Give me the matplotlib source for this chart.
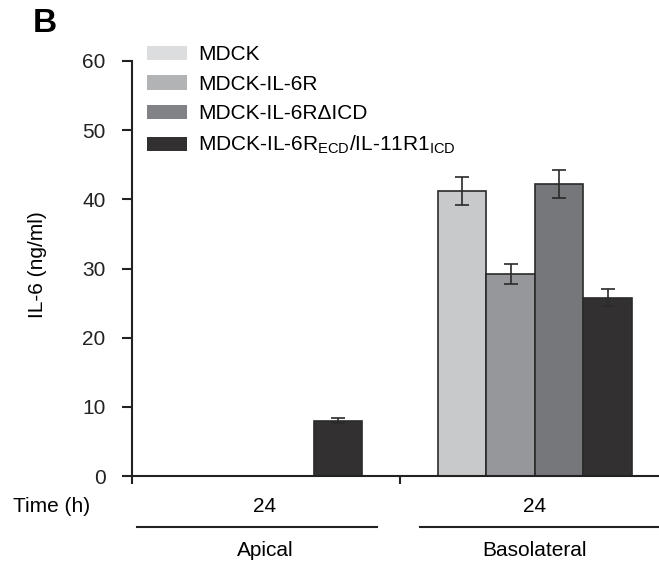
import numpy as np
import matplotlib
matplotlib.use("Agg")
from matplotlib import pyplot as plt
from matplotlib.patches import Patch

plt.rcParams['font.family'] = ['Liberation Sans', 'DejaVu Sans']
plt.rcParams['mathtext.fontset'] = 'custom'
plt.rcParams['mathtext.rm'] = 'Liberation Sans'
plt.rcParams['mathtext.it'] = 'Liberation Sans'

# data
groups = ["Apical", "Basolateral"]
times = ["24", "24"]
series = ["MDCK", "MDCK-IL-6R", "MDCK-IL-6R\u0394ICD",
          "MDCK-IL-6R$_{\\mathrm{ECD}}$/IL-11R1$_{\\mathrm{ICD}}$"]
apical = [0.0, 0.05, 0.05, 8.0]
apical_err = [0.0, 0.0, 0.0, 0.4]
basolateral = [41.2, 29.2, 42.2, 25.8]
basolateral_err = [2.0, 1.5, 2.0, 1.2]

bar_colors = ["#c8c9cb", "#96979a", "#76777a", "#323031"]
legend_colors = ["#dcdddf", "#b2b3b5", "#818285", "#323031"]

W, H = 659, 564
fig = plt.figure(figsize=(W / 100, H / 100), dpi=100)
# axes: left spine x=132, y=0 at 476, y=60 at 61
ax = fig.add_axes([132 / W, 1 - 476 / H, 1 - 132 / W, (476 - 61) / H])

w = 0.18
x = np.arange(len(groups))
for i in range(len(series)):
    vals = [apical[i], basolateral[i]]
    errs = [apical_err[i], basolateral_err[i]]
    pos = x + (i - 1.5) * w
    ax.bar(pos, vals, w, color=bar_colors[i], edgecolor="#2a2a2a", linewidth=1.2, zorder=2)
    for p, v, e in zip(pos, vals, errs):
        if e > 0:
            ax.errorbar(p, v, yerr=e, fmt="none", ecolor="#2a2a2a", elinewidth=1.2,
                        capsize=5, capthick=1.2, zorder=3)

ax.set_xlim(-0.493, 1.46)
ax.set_ylim(0, 60)
ax.set_yticks(np.arange(0, 61, 10))
ax.tick_params(axis="y", labelsize=15, direction="out", length=7, width=1.5,
               pad=12, colors="#222222")
ax.set_xticks([-0.493, 0.5])
ax.set_xticklabels([])
ax.tick_params(axis="x", direction="out", length=6, width=1.5, colors="#222222")
ax.spines["top"].set_visible(False)
ax.spines["right"].set_visible(False)
for s in ["left", "bottom"]:
    ax.spines[s].set_linewidth(1.5)
    ax.spines[s].set_color("#222222")
ax.set_ylabel("IL-6 (ng/ml)", fontsize=15)
ax.yaxis.set_label_coords((47 - 132) / (W - 132), (476 - 265) / 415)

handles = [Patch(facecolor=c, edgecolor="none") for c in legend_colors]
ax.legend(handles, series, loc="upper left", bbox_to_anchor=((147 - 132) / (W - 132), 1.038),
          frameon=False, fontsize=15, handlelength=1.92, handleheight=0.67,
          handletextpad=0.55, labelspacing=0.51, borderpad=0, borderaxespad=0)

# labels below the axis
fig.text(52 / W, 1 - 506 / H, "Time (h)", fontsize=15, ha="center", va="center")
for xi, t, g in zip(x, times, groups):
    xf = ax.transData.transform((xi, 0))[0] / fig.bbox.width
    fig.text(xf, 1 - 506 / H, t, fontsize=15, ha="center", va="center")
    fig.text(xf, 1 - 551 / H, g, fontsize=15, ha="center", va="center")

fig.add_artist(plt.Line2D([137 / W, 377 / W], [1 - 527 / H] * 2, color="#222222", lw=1.5))
fig.add_artist(plt.Line2D([420 / W, 1.0], [1 - 527 / H] * 2, color="#222222", lw=1.5))

fig.text(45 / W, 1 - 23 / H, "B", fontsize=24, fontweight="bold", ha="center", va="center")

fig.savefig("out.png", dpi=100)
